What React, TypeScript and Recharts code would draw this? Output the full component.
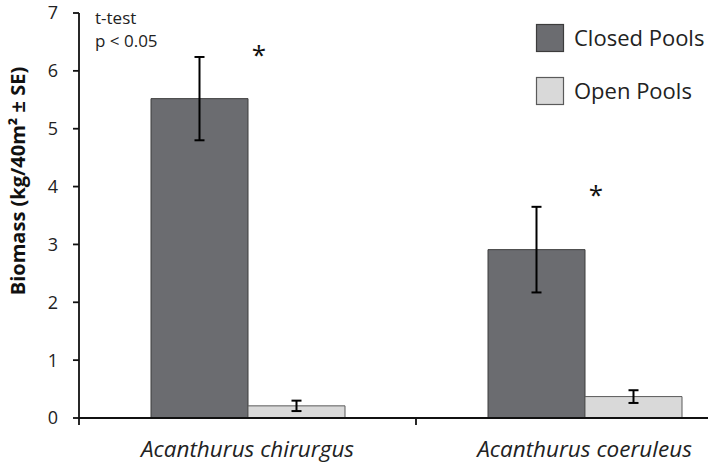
import React from 'react';
import { BarChart, Bar, XAxis, YAxis, ErrorBar, LabelList, Customized } from 'recharts';

// Biomass per species, closed vs open pools (mean ± SE)
const species = ['Acanthurus chirurgus', 'Acanthurus coeruleus'];
const closedMean = [5.52, 2.91];
const closedSE = [0.72, 0.74];
const openMean = [0.21, 0.37];
const openSE = [0.09, 0.11];
// height (in kg units) where the significance star sits
const starLevel = [6.35, 3.93];
const yTicks = [0, 1, 2, 3, 4, 5, 6, 7];

const seriesNames = ['Closed Pools', 'Open Pools'];
const seriesFill = ['#6b6c70', '#d9d9d9'];
const seriesStroke = ['#3c3c3c', '#5a5a5a'];

const data = species.map((name, i) => ({
  name,
  closed: closedMean[i],
  closedSE: closedSE[i],
  open: openMean[i],
  openSE: openSE[i],
}));

const FONT = '"Open Sans", sans-serif';

const CategoryTick = (props: any) => {
  const { x, y, payload } = props;
  const half = payload?.offset ?? 168.5;
  const axisY = y - 8;
  return (
    <g>
      <line x1={x - half} x2={x - half} y1={axisY} y2={axisY + 7} stroke="#111" strokeWidth={1.8} />
      <text x={x} y={y + 31} textAnchor="middle" fontFamily={FONT} fontStyle="italic" fontSize={22.5} fill="#222">
        {payload.value}
      </text>
    </g>
  );
};

const Star = (props: any) => {
  const { x, y, width, height, value, index } = props;
  const ppu = height / value;
  const cy = y + height - starLevel[index] * ppu;
  return (
    <text x={x + width + 11} y={cy + 13} textAnchor="middle" fontFamily={FONT} fontSize={26} fill="#111">
      *
    </text>
  );
};

const Extras = () => (
  <g fontFamily={FONT} fill="#222">
    <text x={95} y={24} fontSize={17}>t-test</text>
    <text x={95} y={47} fontSize={17}>p &lt; 0.05</text>
    {seriesNames.map((s, i) => (
      <g key={s}>
        <rect x={536.5} y={24.5 + i * 53} width={27} height={27} fill={seriesFill[i]} stroke={seriesStroke[i]} strokeWidth={1.2} />
        <text x={574} y={46 + i * 53} fontSize={22}>{s}</text>
      </g>
    ))}
  </g>
);

export default function App() {
  return (
    <div style={{ position: 'absolute', left: 0, top: 0, width: 708, height: 465, overflow: 'hidden', background: '#fff' }}>
      <BarChart
        width={760}
        height={465}
        data={data}
        margin={{ top: 13, right: 7, bottom: 0, left: 0 }}
        barCategoryGap={72}
        barGap={0}
      >
        <YAxis
          width={79}
          domain={[0, 7]}
          ticks={yTicks}
          interval={0}
          tickSize={6}
          tickMargin={15}
          axisLine={{ stroke: '#111', strokeWidth: 1.8 }}
          tickLine={{ stroke: '#111', strokeWidth: 1.8 }}
          tick={{ fontFamily: FONT, fontSize: 18, fill: '#222' }}
          label={{
            content: () => (
              <text
                transform="translate(25,181) rotate(-90)"
                textAnchor="middle"
                fontFamily={FONT}
                fontWeight="bold"
                fontSize={20}
                fill="#111"
              >
                Biomass (kg/40m² ± SE)
              </text>
            ),
          }}
        />
        <XAxis
          dataKey="name"
          height={47}
          tickSize={6}
          tickMargin={2}
          tickLine={false}
          axisLine={{ stroke: '#111', strokeWidth: 1.8 }}
          tick={<CategoryTick />}
          interval={0}
        />
        <Bar dataKey="closed" name={seriesNames[0]} fill={seriesFill[0]} stroke={seriesStroke[0]} strokeWidth={1} isAnimationActive={false}>
          <ErrorBar dataKey="closedSE" direction="y" width={5} stroke="#000" strokeWidth={2} />
          <LabelList dataKey="closed" content={<Star />} />
        </Bar>
        <Bar dataKey="open" name={seriesNames[1]} fill={seriesFill[1]} stroke={seriesStroke[1]} strokeWidth={1} isAnimationActive={false}>
          <ErrorBar dataKey="openSE" direction="y" width={5} stroke="#000" strokeWidth={2} />
        </Bar>
        <Customized component={Extras} />
      </BarChart>
    </div>
  );
}
